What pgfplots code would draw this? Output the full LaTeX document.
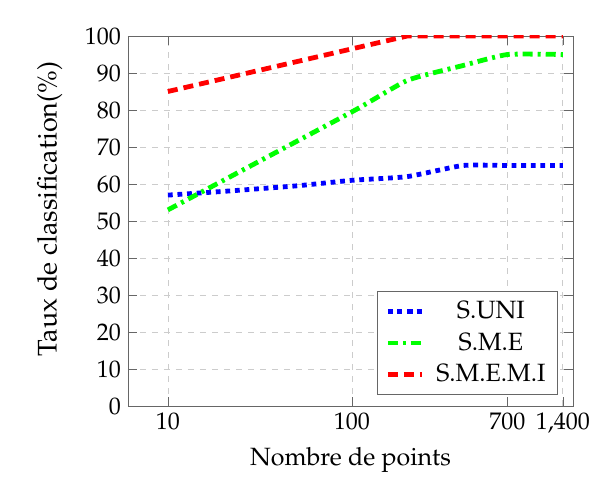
\documentclass[border=0pt]{standalone}
\usepackage[T1]{fontenc}
\usepackage{mathpazo}
\usepackage{pgfplots}
\pgfplotsset{compat=1.18}
\begin{document}
\begin{tikzpicture}
\begin{axis}[
  scale only axis,
  width=222.5pt, height=185pt,
  xmode=log,
  xmin=6.07, xmax=1590,
  ymin=0, ymax=100,
  xtick={10,100,700,1400},
  xticklabels={10,100,700,{1,400}},
  ytick={0,10,...,100},
  grid=major,
  major grid style={dashed, gray!40, line width=0.4pt},
  axis line style={gray!80!black},
  tick style={gray!80!black},
  xlabel={Nombre de points},
  ylabel={Taux de classification(\%)},
  xlabel style={font=\fontsize{12.5}{14}\selectfont},
  ylabel style={font=\fontsize{13.5}{15}\selectfont, xshift=6pt, yshift=4.5pt},
  ticklabel style={font=\fontsize{12}{14}\selectfont},
  legend style={at={(0.966,0.03)}, anchor=south east, font=\fontsize{12.5}{14}\selectfont, draw=gray!80!black, row sep=1.5pt, inner xsep=4pt, inner ysep=3pt,
    /tikz/every odd column/.append style={column sep=4pt}},
  legend cell align=center,
]
\addplot[blue, line width=2.4pt, dash pattern=on 2.4pt off 2.4pt, smooth, tension=0.3] coordinates {
  (10,57) (20,58) (50,59.5) (100,61) (200,62) (400,65) (700,65) (1400,65)};
\addlegendentry{S.UNI}
\addplot[green, line width=2.4pt, dash pattern=on 5pt off 2.5pt on 1.5pt off 2.5pt, smooth, tension=0.3] coordinates {
  (10,53) (100,79.5) (200,88) (400,92) (700,95) (1400,95)};
\addlegendentry{S.M.E}
\addplot[red, line width=2.4pt, dash pattern=on 5pt off 3pt] coordinates {
  (10,85) (200,100) (700,100) (1400,100)};
\addlegendentry{S.M.E.M.I}
\end{axis}
\pgfresetboundingbox
\path ([shift={(-64pt,-38pt)}]current axis.south west) rectangle ([shift={(8.5pt,18pt)}]current axis.north east);
\end{tikzpicture}
\end{document}
